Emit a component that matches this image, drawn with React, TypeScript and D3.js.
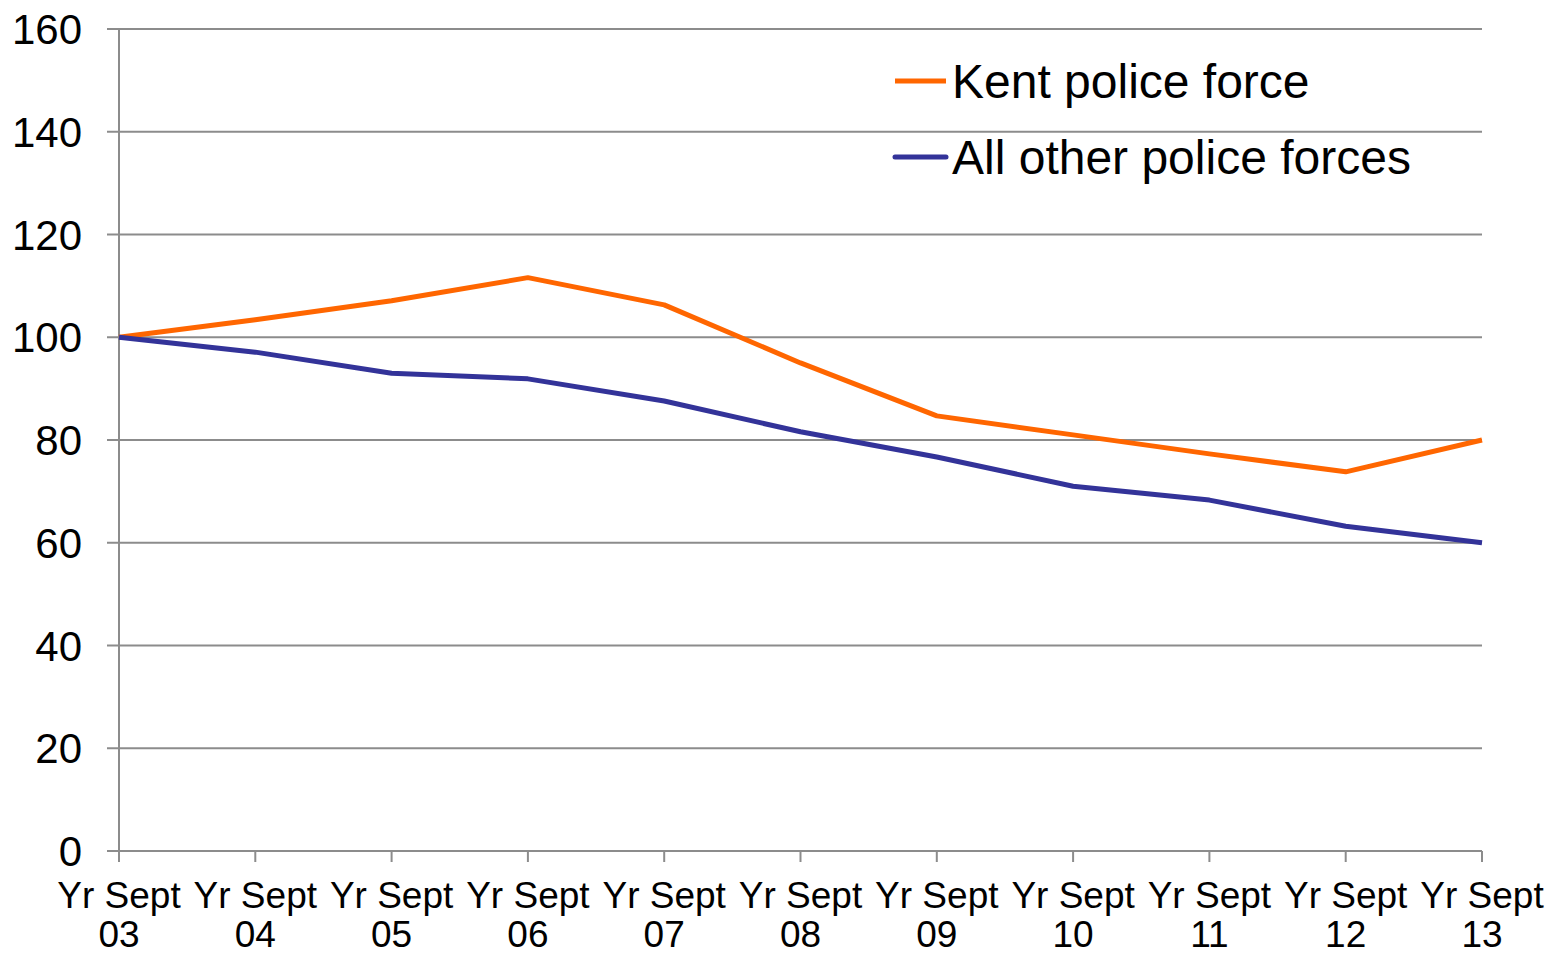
import React from 'react';
import * as d3 from 'd3';

const categories = ['03', '04', '05', '06', '07', '08', '09', '10', '11', '12', '13'];
const kent = [100, 103.4, 107.1, 111.6, 106.3, 95.0, 84.7, 81.0, 77.3, 73.8, 80.0];
const others = [100, 97.1, 93.0, 91.9, 87.6, 81.6, 76.7, 71.0, 68.3, 63.2, 60.0];
const yTicks = [0, 20, 40, 60, 80, 100, 120, 140, 160];
const seriesNames = ['Kent police force', 'All other police forces'];
const colors = ['#ff6600', '#333399'];

const W = 1549;
const H = 954;
const left = 119;
const right = 1482;
const top = 29;
const bottom = 851;
const font = '"Liberation Sans", Arial, sans-serif';

const App: React.FC = () => {
  const x = d3.scalePoint<string>().domain(categories).range([left, right]);
  const y = d3.scaleLinear().domain([0, 160]).range([bottom, top]);

  const line = d3.line<number>()
    .x((_, i) => x(categories[i])!)
    .y(d => y(d));

  const series = [kent, others];

  return (
    <svg width={W} height={H} style={{ position: 'absolute', left: 0, top: 0, background: '#fff' }}>
      {/* gridlines + y ticks */}
      {yTicks.map(t => (
        <g key={t}>
          <line x1={left - 12} x2={right} y1={y(t)} y2={y(t)} stroke="#8c8c8c" strokeWidth={2} />
          <text x={82} y={y(t)} dy="0.36em" textAnchor="end" fontSize={42} fontFamily={font} fill="#000">
            {t}
          </text>
        </g>
      ))}

      {/* y axis */}
      <line x1={left} x2={left} y1={top} y2={bottom} stroke="#8c8c8c" strokeWidth={2} />

      {/* x ticks and labels */}
      {categories.map(c => (
        <g key={c}>
          <line x1={x(c)!} x2={x(c)!} y1={bottom} y2={bottom + 11} stroke="#8c8c8c" strokeWidth={2} />
          <text x={x(c)!} y={908} textAnchor="middle" fontSize={37} fontFamily={font} fill="#000">
            Yr Sept
          </text>
          <text x={x(c)!} y={947} textAnchor="middle" fontSize={37} fontFamily={font} fill="#000">
            {c}
          </text>
        </g>
      ))}

      {/* lines */}
      {series.map((s, i) => (
        <path key={i} d={line(s)!} fill="none" stroke={colors[i]} strokeWidth={5} strokeLinejoin="round" />
      ))}

      {/* legend */}
      {seriesNames.map((name, i) => (
        <g key={name} transform={`translate(0, ${81 + i * 76})`}>
          <line x1={895} x2={946} y1={0} y2={0} stroke={colors[i]} strokeWidth={5} strokeLinecap={i === 1 ? 'round' : 'butt'} />
          <text x={952} y={0} dy="0.36em" fontSize={48} fontFamily={font} fill="#000">
            {name}
          </text>
        </g>
      ))}
    </svg>
  );
};

export default App;
